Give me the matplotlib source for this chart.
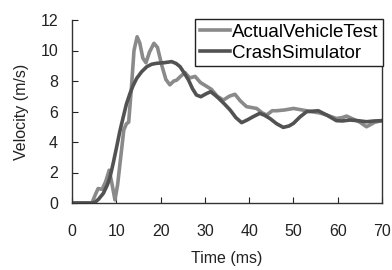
import matplotlib
matplotlib.use("Agg")
import matplotlib.pyplot as plt

plt.rcParams['font.family'] = ['Liberation Sans', 'DejaVu Sans']

test_t = [0, 4.5, 5.2, 5.9, 6.8, 7.6, 8.4, 9.0, 9.7, 10.3, 11.0, 11.7, 12.3, 12.8, 13.4, 14.0,
          14.7, 15.3, 16.0, 16.7, 17.5, 18.5, 19.3, 20.3, 21.2, 22.1, 23.0, 23.6, 24.5, 25.5,
          26.6, 27.8, 29.0, 30.4, 31.5, 32.8, 34.2, 35.5, 36.8, 38.0, 39.4, 41.7, 43.0, 44.0,
          45.2, 46.2, 48, 50, 52, 54.5, 56, 57.5, 59.7, 61, 62, 63.5, 65, 66.5, 68.4, 70]
test_v = [0, 0, 0.5, 0.95, 0.9, 1.4, 2.15, 1.3, 0.2, 1.2, 3.0, 4.8, 5.2, 5.3, 7.5, 10.0,
          10.9, 10.5, 9.5, 9.2, 9.9, 10.47, 10.2, 9.0, 8.1, 7.75, 8.0, 8.05, 8.3, 8.55,
          8.2, 8.3, 7.9, 7.65, 7.45, 7.0, 6.75, 7.0, 7.13, 6.7, 6.32, 6.2, 5.9, 5.77,
          6.05, 6.05, 6.1, 6.2, 6.1, 5.97, 5.9, 5.77, 5.54, 5.6, 5.7, 5.5, 5.3, 5.0, 5.3, 5.4]

sim_t = [0, 4.5, 5.2, 6.0, 7.07, 8.0, 8.6, 9.3, 10.1, 10.8, 11.6, 12.3, 13.1, 13.8, 14.6, 15.7,
         16.9, 18.0, 19.1, 20.8, 22.5, 23.5, 24.4, 25.4, 26.3, 27.2, 28.1, 29.1, 30.2, 31.3,
         32.2, 33.1, 34.4, 35.7, 37.0, 38.3, 39.6, 40.9, 42.4, 43.5, 44.7, 46.2, 47.7, 49,
         50.0, 51.5, 53.0, 55.6, 57.5, 59.7, 61, 62.8, 64.5, 66.5, 68.3, 70]
sim_v = [0, 0, 0.05, 0.25, 0.63, 1.2, 1.72, 2.6, 3.7, 4.7, 5.67, 6.5, 7.19, 7.7, 8.17, 8.6,
         8.94, 9.1, 9.16, 9.2, 9.27, 9.15, 8.94, 8.5, 8.07, 7.5, 7.08, 6.97, 7.15, 7.3,
         7.1, 6.87, 6.5, 6.1, 5.6, 5.27, 5.45, 5.66, 5.88, 5.75, 5.54, 5.2, 4.96, 5.05,
         5.22, 5.65, 5.99, 6.05, 5.77, 5.4, 5.38, 5.44, 5.4, 5.33, 5.38, 5.4]

x_ticks = [0, 10, 20, 30, 40, 50, 60, 70]
y_ticks = [0, 2, 4, 6, 8, 10, 12]

fig = plt.figure(figsize=(3.92, 2.70), dpi=100)
ax = fig.add_axes([72/392, 67/270, 310/392, 183/270])

ax.plot(test_t, test_v, color='#8a8a8a', lw=2.6, label='ActualVehicleTest', solid_joinstyle='round')
ax.plot(sim_t, sim_v, color='#525252', lw=2.6, label='CrashSimulator', solid_joinstyle='round')

ax.set_xlim(0, 70)
ax.set_ylim(0, 12)
ax.set_xticks(x_ticks)
ax.set_yticks(y_ticks)
ax.tick_params(direction='in', length=4, width=0.8, labelsize=11.5, colors='#222222')
ax.tick_params(axis='y', pad=10)
ax.tick_params(axis='x', pad=15)
for s in ['left', 'bottom', 'right']:
    ax.spines[s].set_color('#333333')
    ax.spines[s].set_linewidth(1.0)
ax.spines['top'].set_visible(False)

ax.set_xlabel('Time (ms)', fontsize=11.5, color='#222222', labelpad=9)
ax.set_ylabel('Velocity (m/s)', fontsize=11.5, color='#222222', labelpad=8)

leg = ax.legend(loc='upper right', bbox_to_anchor=(1.003, 1.005), borderaxespad=0,
                fancybox=False, edgecolor='#222222', framealpha=1, fontsize=13.5,
                handlelength=1.6, handletextpad=0.12, borderpad=0.25, labelspacing=0.2)
leg.get_frame().set_linewidth(1.0)

fig.savefig('out.png', dpi=100)
